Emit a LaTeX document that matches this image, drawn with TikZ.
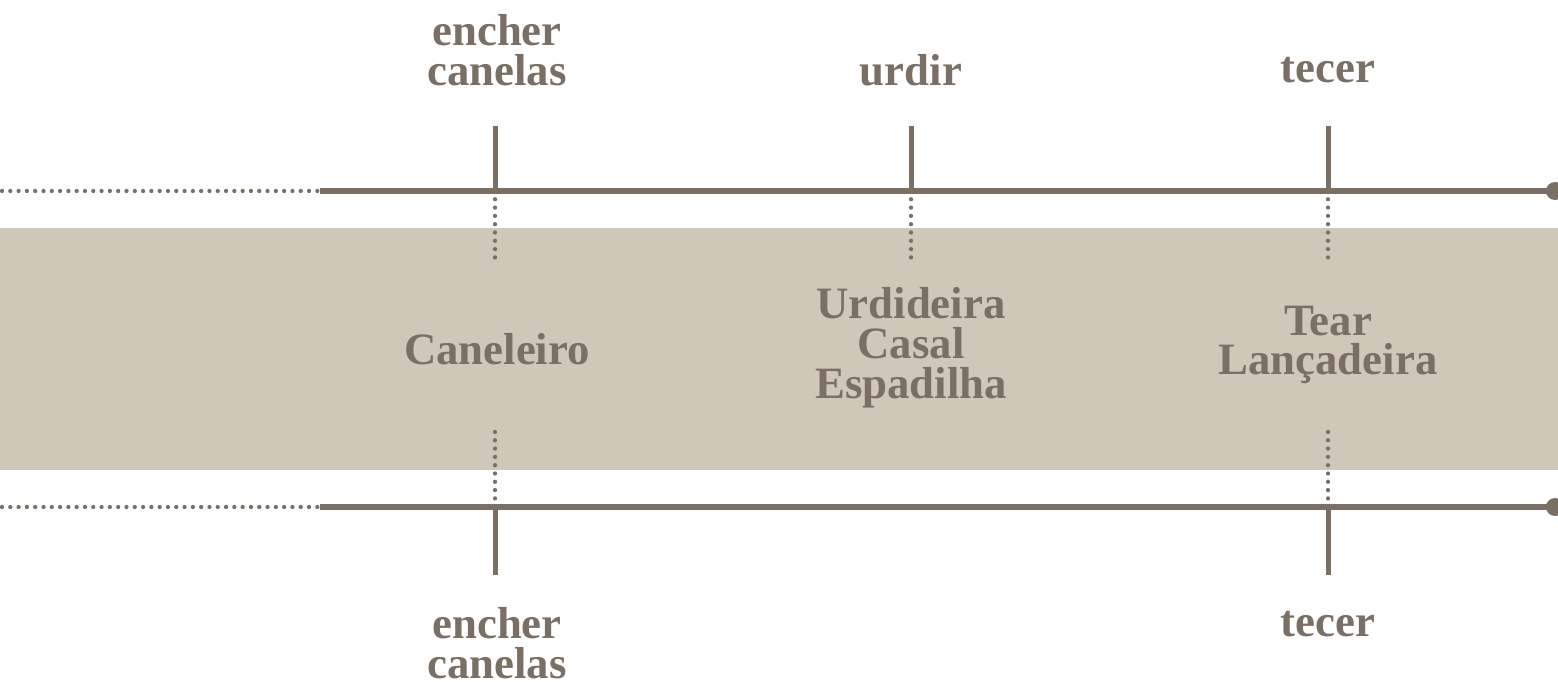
\documentclass[tikz,border=0pt]{standalone}
\usepackage{fontspec}
\setmainfont{Liberation Serif}
\usepackage{tikz}
\usetikzlibrary{positioning,calc}

\definecolor{ink}{RGB}{122,111,100}
\definecolor{band}{RGB}{207,199,184}

\tikzset{
  lbl/.style={text=ink, font=\fontsize{25.5}{22.7}\selectfont\bfseries, align=center, inner sep=0pt},
  axis/.style={draw=ink, line width=0.11cm},
  tick/.style={draw=ink, line width=0.1cm},
  dots/.style={draw=ink, line width=0.085cm, line cap=round, dash pattern=on 0pt off 0.166cm}
}

\begin{document}
\begin{tikzpicture}[x=0.02cm, y=-0.02cm]
    \useasboundingbox (0,0) rectangle (1558,682);

    % Band
    \fill[band] (0,228) rectangle (1558,470);

    % Axes
    \coordinate (topstart) at (2,191);
    \coordinate (topsolid) at (320,191);
    \coordinate (topend) at (1555,191);
    \coordinate (botstart) at (2,507);
    \coordinate (botsolid) at (320,507);
    \coordinate (botend) at (1555,507);
    \draw[dots] (topstart) -- (topsolid);
    \draw[axis] (topsolid) -- (topend);
    \fill[ink] (topend) circle (9);
    \draw[dots] (botstart) -- (botsolid);
    \draw[axis] (botsolid) -- (botend);
    \fill[ink] (botend) circle (9);

    % Top ticks
    \coordinate (t1a) at (495,126); \coordinate (t1b) at (495,191); \coordinate (t1c) at (495,260);
    \coordinate (t2a) at (911,126); \coordinate (t2b) at (911,191); \coordinate (t2c) at (911,260);
    \coordinate (t3a) at (1328,126); \coordinate (t3b) at (1328,191); \coordinate (t3c) at (1328,260);
    \draw[tick] (t1a) -- (t1b);
    \draw[tick] (t2a) -- (t2b);
    \draw[tick] (t3a) -- (t3b);
    \draw[dots] (t1b) -- (t1c);
    \draw[dots] (t2b) -- (t2c);
    \draw[dots] (t3b) -- (t3c);

    % Bottom ticks
    \coordinate (b1a) at (495,432); \coordinate (b1b) at (495,507); \coordinate (b1c) at (495,575);
    \coordinate (b3a) at (1328,432); \coordinate (b3b) at (1328,507); \coordinate (b3c) at (1328,575);
    \draw[dots] (b1a) -- (b1b);
    \draw[dots] (b3a) -- (b3b);
    \draw[tick] (b1b) -- (b1c);
    \draw[tick] (b3b) -- (b3c);

    % Top labels
    \node[lbl] (encher) at (497,50) {encher\\canelas};
    \node[lbl] (urdir) at (911,70) {urdir};
    \node[lbl] (tecer) at (1328,70) {tecer};

    % Tools
    \node[lbl] (caneleiro) at (497,349) {Caneleiro};
    \node[lbl] (urdideira) at (911,348) {Urdideira\\Casal\\Espadilha};
    \node[lbl] (tear) at (1328,345) {Tear\\Lançadeira};

    % Bottom labels
    \node[lbl] (encherb) at (497,643) {encher\\canelas};
    \node[lbl] (tecerb) at (1328,624) {tecer};
\end{tikzpicture}
\end{document}
